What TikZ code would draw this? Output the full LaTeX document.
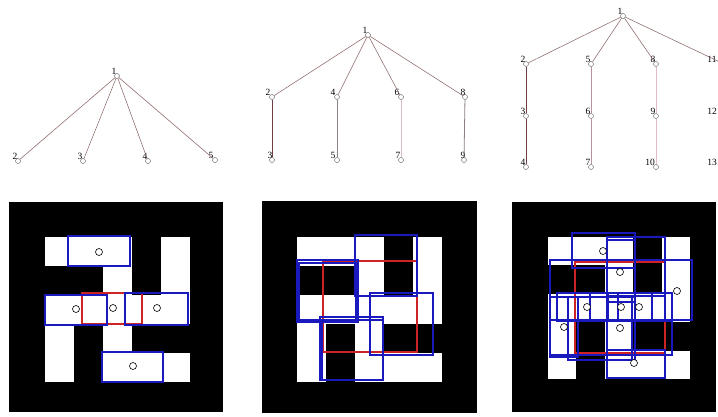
\documentclass[tikz,border=0pt]{standalone}
\usepackage{fontspec}
\setmainfont{Liberation Serif}
\definecolor{edgecol}{RGB}{140,105,105}
\definecolor{vdark}{RGB}{110,60,65}
\definecolor{vgray}{RGB}{140,128,128}
\definecolor{vpink}{RGB}{225,190,195}
\definecolor{vmid}{RGB}{185,145,155}
\definecolor{boxblue}{RGB}{25,25,190}
\definecolor{boxred}{RGB}{205,35,35}
\newcommand\mytreenode[5]{%
  \node[mk] (#1) at (#2,#3) {};
  \node[lab] (#1l) at (#2-#5,#3-5) {#4};}
\begin{document}
\begin{tikzpicture}[x=1pt,y=-1pt,
  mk/.style={circle,draw=gray!70!black,line width=0.4pt,inner sep=0pt,minimum size=5pt},
  lab/.style={font=\fontsize{9.5}{9.5}\selectfont,inner sep=0pt},
  edg/.style={line width=0.55pt,draw=edgecol},
  bluebox/.style={draw=boxblue,line width=2.2pt},
  redbox/.style={draw=boxred,line width=1.8pt},
  ring/.style={draw=black,line width=0.6pt},
  panel/.style={fill=black}]
\useasboundingbox (0,0) rectangle (718,416);
\clip (0,0) rectangle (718,416);
\fill[white] (0,0) rectangle (718,416);

% ---------------- tree 1
\mytreenode{t1r}{117}{76}{1}{3}
\mytreenode{t1a}{18}{161}{2}{3}
\mytreenode{t1b}{83}{161}{3}{3}
\mytreenode{t1c}{148}{161}{4}{3}
\mytreenode{t1d}{215}{160}{5}{4}
\foreach \n in {t1a,t1b,t1c,t1d} \draw[edg] (t1r) -- (\n);

% ---------------- tree 2
\mytreenode{t2r}{368}{35}{1}{3}
\mytreenode{t2a}{272}{97}{2}{4}
\mytreenode{t2b}{337}{97}{4}{4}
\mytreenode{t2c}{401}{97}{6}{4}
\mytreenode{t2d}{465}{97}{8}{2}
\mytreenode{t2e}{272}{160}{3}{2}
\mytreenode{t2f}{337}{160}{5}{4}
\mytreenode{t2g}{401}{160}{7}{3}
\mytreenode{t2h}{464}{160}{9}{1}
\foreach \n in {t2a,t2b,t2c,t2d} \draw[edg] (t2r) -- (\n);
\draw[line width=1pt,draw=vdark] (t2a) -- (t2e);
\draw[line width=0.8pt,draw=vgray] (t2b) -- (t2f);
\draw[line width=0.8pt,draw=vpink] (t2c) -- (t2g);
\draw[line width=0.8pt,draw=vgray] (t2d) -- (t2h);

% ---------------- tree 3
\mytreenode{t3r}{623}{16}{1}{3}
\mytreenode{t3a}{526}{64}{2}{3}
\mytreenode{t3b}{591}{64}{5}{3}
\mytreenode{t3c}{656}{64}{8}{3}
\mytreenode{t3d}{724}{64}{11}{12}
\mytreenode{t3e}{526}{116}{3}{3}
\mytreenode{t3f}{591}{116}{6}{3}
\mytreenode{t3g}{656}{116}{9}{3}
\mytreenode{t3h}{724}{116}{12}{12}
\mytreenode{t3i}{526}{167}{4}{3}
\mytreenode{t3j}{591}{167}{7}{3}
\mytreenode{t3k}{656}{167}{10}{6}
\mytreenode{t3m}{724}{167}{13}{12}
\foreach \n in {t3a,t3b,t3c,t3d} \draw[edg] (t3r) -- (\n);
\draw[line width=1pt,draw=vdark] (t3a) -- (t3e) -- (t3i);
\draw[line width=0.8pt,draw=vmid] (t3b) -- (t3f) -- (t3j);
\draw[line width=0.8pt,draw=vpink] (t3c) -- (t3g) -- (t3k);

% ---------------- panel 1
\fill[panel] (9,202) rectangle (223,412);
\foreach \c/\r in {0/0,1/0,2/0,4/0,2/1,4/1,0/2,1/2,2/2,3/2,4/2,0/3,2/3,0/4,2/4,3/4,4/4}
  \fill[white] ({45+29*\c},{237+29*\r}) rectangle +(29,29);
\draw[redbox] (82,293) rectangle (142,324);
\draw[bluebox] (68,236) rectangle (130,266);
\draw[bluebox] (45,295) rectangle (107,325);
\draw[bluebox] (125,293) rectangle (188,325);
\draw[bluebox] (102,352) rectangle (163,382);
\draw[ring] (99,252) circle[radius=3.5];
\draw[ring] (76,309) circle[radius=3.5];
\draw[ring] (113,308) circle[radius=3.5];
\draw[ring] (157,308) circle[radius=3.5];
\draw[ring] (133,366) circle[radius=3.5];

% ---------------- panel 2
\fill[panel] (262,201) rectangle (477,413);
\fill[white] (297,237) rectangle (442,382);
\foreach \c/\r in {3/0,0/1,1/1,3/1,1/3,3/3,4/3,1/4}
  \fill[black] ({297+29*\c},{237+29*\r}) rectangle +(29,29);
\draw[redbox] (323,261) rectangle (417,352);
\draw[bluebox] (355,235) rectangle (417,296);
\draw[bluebox] (297,260) rectangle (358,322);
\draw[bluebox] (299,263) rectangle (356,320);
\draw[bluebox] (370,293) rectangle (433,355);
\draw[bluebox] (320,317) rectangle (383,380);
\draw[bluebox] (322,320) rectangle (383,380);

% ---------------- panel 3
\fill[panel] (512,202) rectangle (716,412);
\fill[white] (548,237) rectangle (690,379);
\foreach \c/\r in {3/0,0/1,1/1,3/1,1/3,3/3,4/3,1/4}
  \fill[black] ({548+28.4*\c},{237+28.4*\r}) rectangle +(28.4,28.4);
\draw[redbox] (575,262) rectangle (665,353);
\draw[bluebox] (572,233) rectangle (635,268);
\draw[bluebox] (607,240) rectangle (635,302);
\draw[bluebox] (607,237) rectangle (665,296);
\draw[bluebox] (550,260) rectangle (607,320);
\draw[bluebox] (550,297) rectangle (578,357);
\draw[bluebox] (557,293) rectangle (618,321);
\draw[bluebox] (590,293) rectangle (652,321);
\draw[bluebox] (608,293) rectangle (672,321);
\draw[bluebox] (607,297) rectangle (635,360);
\draw[bluebox] (568,297) rectangle (632,360);
\draw[bluebox] (550,320) rectangle (672,355);
\draw[bluebox] (607,350) rectangle (665,378);
\draw[bluebox] (665,260) rectangle (692,320);
\draw[bluebox] (550,260) rectangle (692,320);
\foreach \p in {(603,251),(620,272),(677,291),(587,307),(621,307),(639,307),(564,327),(620,328),(634,363)}
  \draw[ring,fill=white] \p circle[radius=3.5];
\end{tikzpicture}
\end{document}
